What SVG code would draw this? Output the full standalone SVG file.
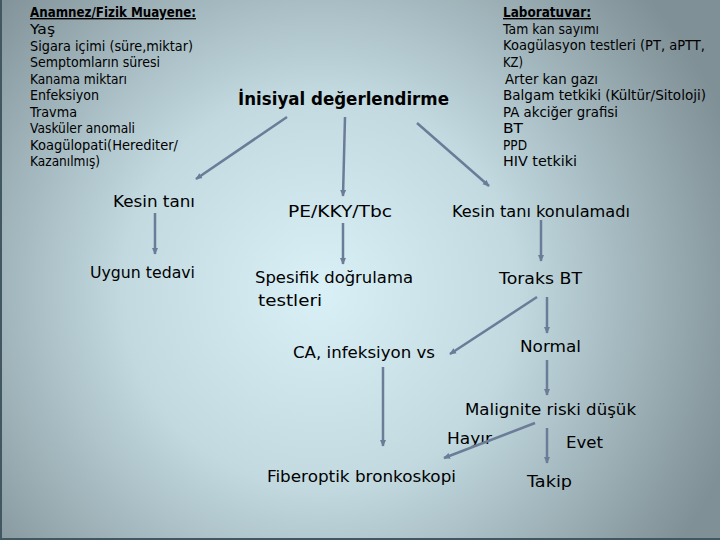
<svg xmlns="http://www.w3.org/2000/svg" width="720" height="540" viewBox="0 0 720 540">
<defs>
<radialGradient id="bg" cx="320" cy="290" r="440" gradientUnits="userSpaceOnUse">
<stop offset="0" stop-color="#d9f0f7"/>
<stop offset="0.45" stop-color="#c2d9e0"/>
<stop offset="1" stop-color="#7f9096"/>
</radialGradient>
<marker id="ah" viewBox="0 0 10 10" refX="8" refY="5" markerWidth="3" markerHeight="3" orient="auto" markerUnits="strokeWidth">
<path d="M0,1 L9,5 L0,9 Z" fill="#6b7c98"/>
</marker>
<style>
text{font-family:"DejaVu Sans","Liberation Sans",sans-serif;fill:#000;}
.s{font-size:14px;}
.m{font-size:16px;}
.h{font-size:14px;font-weight:bold;text-decoration:underline;}
.t{font-size:18px;font-weight:bold;}
.c line{stroke:#6b7c98;stroke-width:2.5;fill:none;marker-end:url(#ah);}
</style>
</defs>
<rect x="0" y="0" width="720" height="540" fill="url(#bg)"/>
<path d="M1,0 V539 H720" fill="none" stroke="#415862" stroke-width="2"/>

<g id="anamnez">
<text class="h" x="30" y="17" textLength="166" lengthAdjust="spacingAndGlyphs">Anamnez/Fizik Muayene:</text>
<text class="s" x="30" y="34" textLength="25" lengthAdjust="spacingAndGlyphs">Yaş</text>
<text class="s" x="30" y="50.5" textLength="163" lengthAdjust="spacingAndGlyphs">Sigara içimi (süre,miktar)</text>
<text class="s" x="30" y="67" textLength="130" lengthAdjust="spacingAndGlyphs">Semptomların süresi</text>
<text class="s" x="30" y="83.5" textLength="97" lengthAdjust="spacingAndGlyphs">Kanama miktarı</text>
<text class="s" x="30" y="100" textLength="69" lengthAdjust="spacingAndGlyphs">Enfeksiyon</text>
<text class="s" x="30" y="116.5" textLength="47" lengthAdjust="spacingAndGlyphs">Travma</text>
<text class="s" x="30" y="133" textLength="105" lengthAdjust="spacingAndGlyphs">Vasküler anomali</text>
<text class="s" x="30" y="149.5" textLength="148" lengthAdjust="spacingAndGlyphs">Koagülopati(Herediter/</text>
<text class="s" x="30" y="166" textLength="70" lengthAdjust="spacingAndGlyphs">Kazanılmış)</text>
</g>

<g id="laboratuvar">
<text class="h" x="503" y="17" textLength="88" lengthAdjust="spacingAndGlyphs">Laboratuvar:</text>
<text class="s" x="503" y="33.5" textLength="96" lengthAdjust="spacingAndGlyphs">Tam kan sayımı</text>
<text class="s" x="503" y="50" textLength="202" lengthAdjust="spacingAndGlyphs">Koagülasyon testleri (PT, aPTT,</text>
<text class="s" x="503" y="67" textLength="20" lengthAdjust="spacingAndGlyphs">KZ)</text>
<text class="s" x="505" y="83.5" textLength="93" lengthAdjust="spacingAndGlyphs">Arter kan gazı</text>
<text class="s" x="503" y="100" textLength="203" lengthAdjust="spacingAndGlyphs">Balgam tetkiki (Kültür/Sitoloji)</text>
<text class="s" x="503" y="116.5" textLength="115" lengthAdjust="spacingAndGlyphs">PA akciğer grafisi</text>
<text class="s" x="503" y="133" textLength="20" lengthAdjust="spacingAndGlyphs">BT</text>
<text class="s" x="503" y="149.5" textLength="24" lengthAdjust="spacingAndGlyphs">PPD</text>
<text class="s" x="503" y="166" textLength="74" lengthAdjust="spacingAndGlyphs">HIV tetkiki</text>
</g>

<g id="inisiyal"><text class="t" x="238" y="105" textLength="211" lengthAdjust="spacingAndGlyphs">İnisiyal değerlendirme</text></g>
<g id="kesin-tani"><text class="m" x="113" y="207" textLength="82" lengthAdjust="spacingAndGlyphs">Kesin tanı</text></g>
<g id="uygun-tedavi"><text class="m" x="90" y="278" textLength="105" lengthAdjust="spacingAndGlyphs">Uygun tedavi</text></g>
<g id="pe-kky-tbc"><text class="m" x="288" y="217" textLength="104" lengthAdjust="spacingAndGlyphs">PE/KKY/Tbc</text></g>
<g id="kesin-tani-konulamadi"><text class="m" x="452" y="217" textLength="178" lengthAdjust="spacingAndGlyphs">Kesin tanı konulamadı</text></g>
<g id="spesifik"><text class="m" x="255" y="283" textLength="158" lengthAdjust="spacingAndGlyphs">Spesifik doğrulama</text><text class="m" x="258" y="306" textLength="64" lengthAdjust="spacingAndGlyphs">testleri</text></g>
<g id="toraks-bt"><text class="m" x="499" y="284" textLength="83" lengthAdjust="spacingAndGlyphs">Toraks BT</text></g>
<g id="ca"><text class="m" x="293" y="358" textLength="142" lengthAdjust="spacingAndGlyphs">CA, infeksiyon vs</text></g>
<g id="normal"><text class="m" x="520" y="352" textLength="61" lengthAdjust="spacingAndGlyphs">Normal</text></g>
<g id="malignite"><text class="m" x="465" y="415" textLength="171" lengthAdjust="spacingAndGlyphs">Malignite riski düşük</text></g>
<g id="hayir"><text class="m" x="447" y="444" textLength="45" lengthAdjust="spacingAndGlyphs">Hayır</text></g>
<g id="evet"><text class="m" x="566" y="448" textLength="37" lengthAdjust="spacingAndGlyphs">Evet</text></g>
<g id="fiberoptik"><text class="m" x="267" y="482" textLength="189" lengthAdjust="spacingAndGlyphs">Fiberoptik bronkoskopi</text></g>
<g id="takip"><text class="m" x="527" y="487" textLength="45" lengthAdjust="spacingAndGlyphs">Takip</text></g>

<g id="connectors" class="c">
<line x1="287" y1="117" x2="196" y2="179"/>
<line x1="345" y1="117" x2="343" y2="196"/>
<line x1="417" y1="123" x2="489" y2="186"/>
<line x1="155" y1="213" x2="155" y2="254"/>
<line x1="343" y1="223" x2="343" y2="264"/>
<line x1="541" y1="220" x2="541" y2="261"/>
<line x1="537" y1="297" x2="450" y2="354"/>
<line x1="547" y1="297" x2="547" y2="333"/>
<line x1="383" y1="367" x2="383" y2="446"/>
<line x1="547" y1="360" x2="547" y2="395"/>
<line x1="535" y1="423" x2="444" y2="458"/>
<line x1="547" y1="428" x2="547" y2="463"/>
</g>
</svg>
